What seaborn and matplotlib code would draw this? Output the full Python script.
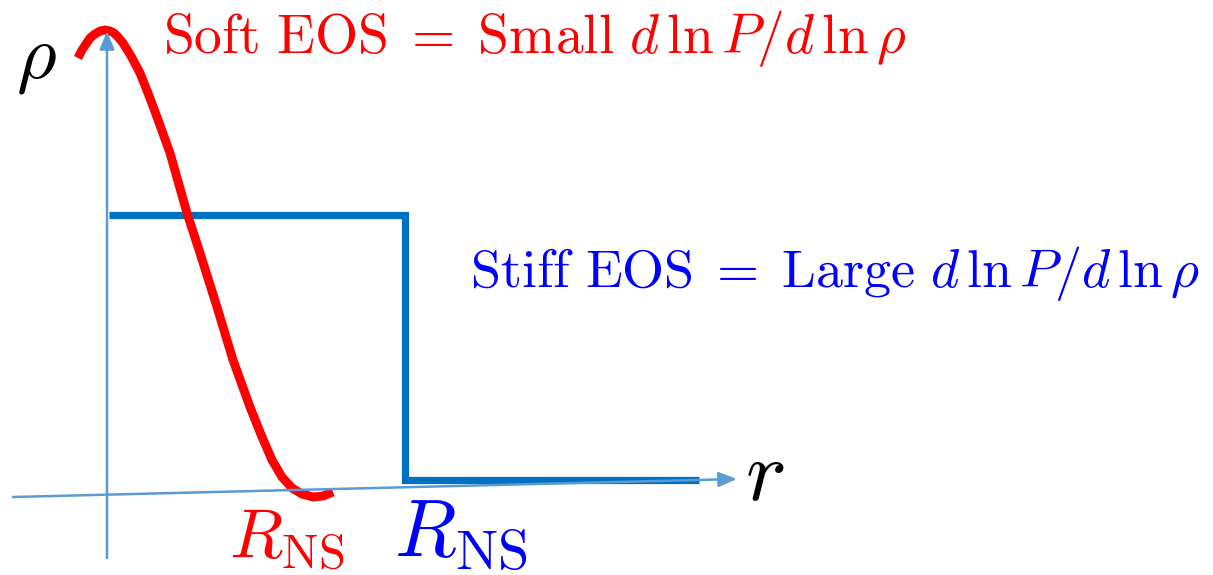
import numpy as np
import pandas as pd
import seaborn as sns
import matplotlib.pyplot as plt

# soft EOS density profile (red) in pixel units
soft_r = [78, 82, 86, 90, 95, 100, 105, 110, 114, 118, 123, 131, 140, 148, 157,
          170, 187, 200, 217, 233, 250, 262, 272, 282, 292, 302, 313, 323, 333]
soft_rho = [58, 50, 44, 38, 34, 31, 30, 31, 33, 37, 43, 56, 73, 93, 117,
            153, 213, 253, 307, 360, 407, 437, 460, 477, 488, 494, 497, 496, 492]

# stiff EOS density profile (blue step)
stiff_r = [109, 405, 405, 699]
stiff_rho = [215, 215, 480, 480]

# axis arrows: (start, end)
r_axis = [(13, 497), (737, 479)]
rho_axis = [(107, 558), (107, 31)]

soft = pd.DataFrame({"r": soft_r, "rho": soft_rho})
stiff = pd.DataFrame({"r": stiff_r, "rho": stiff_rho})

sns.set_style("white")
plt.rcParams["mathtext.fontset"] = "cm"

fig = plt.figure(figsize=(12.13, 5.75), dpi=100)
ax = fig.add_axes([0, 0, 1, 1])
ax.set_xlim(0, 1213)
ax.set_ylim(575, 0)
ax.axis("off")

axis_color = "#5B9BD5"
for (x0, y0), (x1, y1) in [r_axis, rho_axis]:
    ax.annotate("", xy=(x1, y1), xytext=(x0, y0),
                arrowprops=dict(arrowstyle="-|>,head_length=1.1,head_width=0.45",
                                color=axis_color, lw=1.8, shrinkA=0, shrinkB=0))

sns.lineplot(data=stiff, x="r", y="rho", sort=False, estimator=None, ax=ax,
             color="#0070C0", lw=5.2, solid_joinstyle="miter",
             solid_capstyle="butt")
sns.lineplot(data=soft, x="r", y="rho", sort=False, estimator=None, ax=ax,
             color="#FF0000", lw=6.4, solid_joinstyle="round",
             solid_capstyle="butt")

ax.text(163, 53, r"$\mathrm{Soft\ EOS}\;=\;\mathrm{Small}\ d\,\ln P/d\,\ln\rho$",
        color="#FF0000", fontsize=40, ha="left", va="baseline")
ax.text(470, 287, r"$\mathrm{Stiff\ EOS}\;=\;\mathrm{Large}\ d\,\ln P/d\,\ln\rho$",
        color="#0000FF", fontsize=39, ha="left", va="baseline")
ax.text(16, 77, r"$\rho$", color="black", fontsize=55, ha="left", va="baseline")
ax.text(745, 500, r"$r$", color="black", fontsize=62, ha="left", va="baseline")
ax.text(229, 557, r"$R_{\mathrm{NS}}$", color="#FF0000", fontsize=50,
        ha="left", va="baseline")
ax.text(394, 556, r"$R_{\mathrm{NS}}$", color="#0000FF", fontsize=58,
        ha="left", va="baseline")

ax.set_xlabel("")
ax.set_ylabel("")

fig.savefig("out.png", dpi=100)
